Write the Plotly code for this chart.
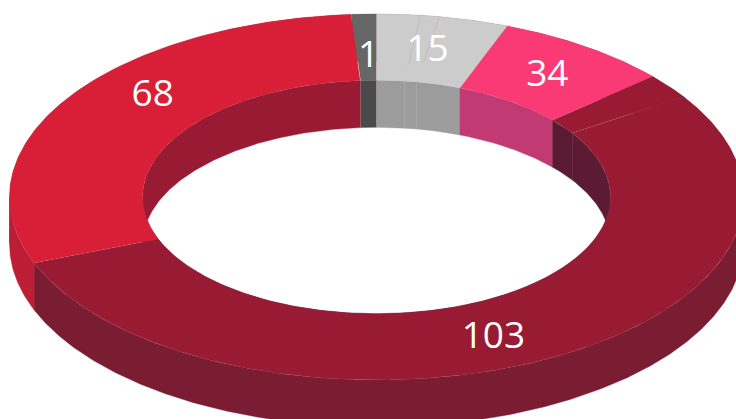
import numpy as np
import plotly.graph_objects as go

# Values printed on the chart, and the sweep each slice occupies in the picture (degrees, clockwise)
slice_labels = ["1", "15", "", "", "34", "", "103", "68"]
slice_sweeps = [3.9, 6.9, 3.0, 11.0, 27.9, 8.0, 192.1, 107.1]
top_colors = ["#666666", "#cccccc", "#cccccc", "#cccccc", "#f93a74", "#991b33", "#991b33", "#d91f37"]
inner_colors = ["#4a4a4a", "#9c9c9c", "#9c9c9c", "#9c9c9c", "#c13a74", "#5a1b33", "#5a1b33", "#991b33"]
outer_colors = ["#555555", "#aaaaaa", "#aaaaaa", "#aaaaaa", "#c93060", "#7a1c32", "#7a1c32", "#bd1d35"]
label_angles = [-1.6, 9.7, None, None, 34.5, None, 157.1, 313.0]
label_radii = [0.78, 0.826, None, None, 0.822, None, 0.819, 0.834]

START = -3.9
CX, CY = 376.5, 197.0
RX, RY = 367.0, 183.0
INNER = 234.0 / 367.0
DEPTH = 47.0
LABEL_DROP = 3.5
FOLDS = [90.0, 270.0]


def ring_xy(theta, r=1.0, drop=0.0):
    t = np.radians(theta)
    return CX + r * RX * np.sin(t), CY - r * RY * np.cos(t) + drop


def add_poly(fig, x, y, color, line=None):
    fig.add_trace(go.Scatter(
        x=np.r_[x, x[0]], y=np.r_[y, y[0]], mode="lines", fill="toself",
        fillcolor=color, line=line or dict(width=0), hoverinfo="skip", showlegend=False,
    ))


def make_arc(a, b):
    return np.linspace(a, b, max(int(b - a) * 2, 8))


def wall_arcs(a, b):
    """Cut a slice where its wall turns round the ring's side, so each piece is a simple shape."""
    cuts = [a] + [f for f in FOLDS if a < f < b] + [b]
    return [make_arc(p, q) for p, q in zip(cuts[:-1], cuts[1:])]


fig = go.Figure()
edges = START + np.r_[0, np.cumsum(slice_sweeps)]
spans = list(zip(edges[:-1], edges[1:]))

# hole walls
for (a, b), c in zip(spans, inner_colors):
    for arc in wall_arcs(a, b):
        x0, y0 = ring_xy(arc, INNER)
        x1, y1 = ring_xy(arc[::-1], INNER, DEPTH)
        add_poly(fig, np.r_[x0, x1], np.r_[y0, y1], c, dict(width=0.4, color=c))
# outer walls
for (a, b), c in zip(spans, outer_colors):
    for arc in wall_arcs(a, b):
        x0, y0 = ring_xy(arc)
        x1, y1 = ring_xy(arc[::-1], 1.0, DEPTH)
        add_poly(fig, np.r_[x0, x1], np.r_[y0, y1], c, dict(width=0.4, color=c))
# top faces
edge_line = dict(width=0.3, color="rgba(190,120,135,0.3)")
for (a, b), c in zip(spans, top_colors):
    arc = make_arc(a, b)
    x0, y0 = ring_xy(arc)
    x1, y1 = ring_xy(arc[::-1], INNER)
    add_poly(fig, np.r_[x0, x1], np.r_[y0, y1], c, edge_line)

# labels
for lab, ang, rad in zip(slice_labels, label_angles, label_radii):
    if lab:
        lx, ly = ring_xy(ang, rad, LABEL_DROP)
        fig.add_trace(go.Scatter(
            x=[lx], y=[ly], mode="text", text=[lab], textposition="middle center",
            textfont=dict(family="Open Sans", size=37, color="#ffffff"),
            hoverinfo="skip", showlegend=False,
        ))

fig.update_layout(
    width=736, height=419, margin=dict(l=0, r=0, t=0, b=0),
    paper_bgcolor="#ffffff", plot_bgcolor="#ffffff",
    xaxis=dict(range=[0, 736], visible=False, fixedrange=True),
    yaxis=dict(range=[419, 0], visible=False, fixedrange=True),
)
fig.write_html("out.html", config=dict(displayModeBar=False),
               post_script="document.body.style.margin='0';")
